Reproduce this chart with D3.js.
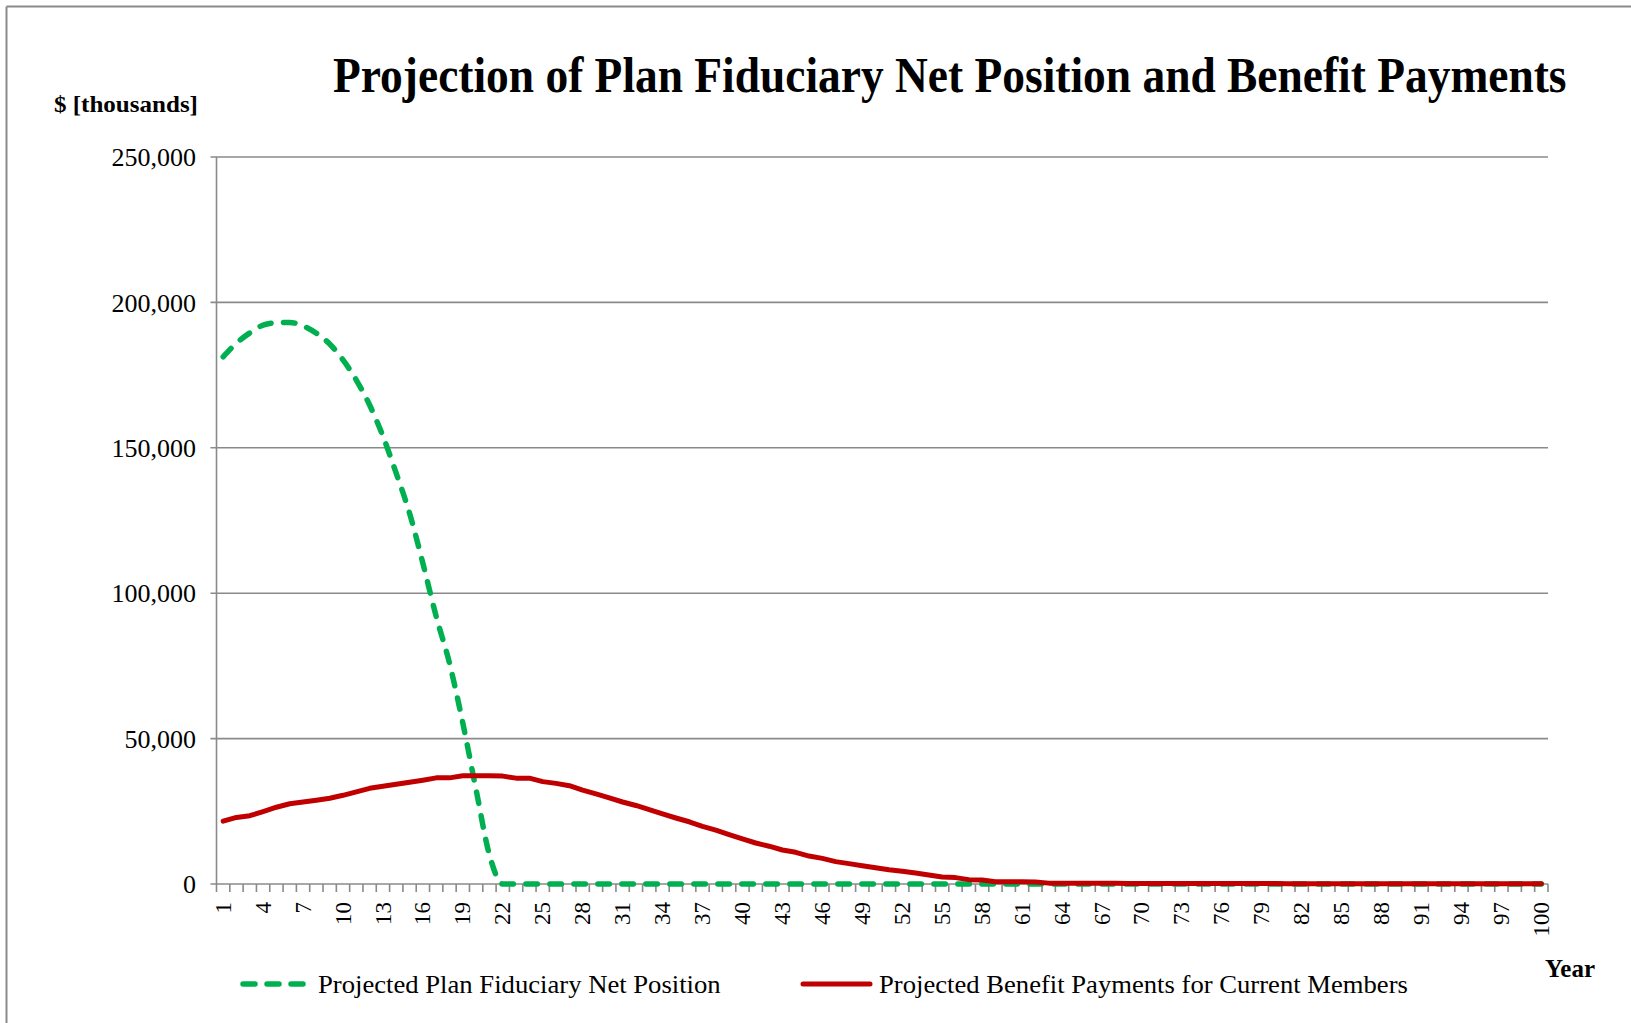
<!DOCTYPE html>
<html>
<head>
<meta charset="utf-8">
<script src="https://cdn.jsdelivr.net/npm/d3@7"></script>
<style>
  html, body { margin: 0; padding: 0; background: #fff; }
  svg { display: block; }
  text { font-family: "Liberation Serif", "Times New Roman", serif; fill: #000; }
</style>
</head>
<body>
<svg id="chart" width="1631" height="1023"></svg>
<script>
// ---- Data ($ thousands) ----
const years = [1,2,3,4,5,6,7,8,9,10,11,12,13,14,15,16,17,18,19,20,
  21,22,23,24,25,26,27,28,29,30,31,32,33,34,35,36,37,38,39,40,
  41,42,43,44,45,46,47,48,49,50,51,52,53,54,55,56,57,58,59,60,
  61,62,63,64,65,66,67,68,69,70,71,72,73,74,75,76,77,78,79,80,
  81,82,83,84,85,86,87,88,89,90,91,92,93,94,95,96,97,98,99,100];

const netPosition = [181300,186000,189500,192200,193000,193100,191900,189400,185700,180200,
  173300,164700,154000,141200,127500,110300,92000,75900,55300,32300,
  10000,0,0,0,0,0,0,0,0,0,0,0,0,0,0,0,0,0,0,0,
  0,0,0,0,0,0,0,0,0,0,0,0,0,0,0,0,0,0,0,0,
  0,0,0,0,0,0,0,0,0,0,0,0,0,0,0,0,0,0,0,0,
  0,0,0,0,0,0,0,0,0,0,0,0,0,0,0,0,0,0,0,0];

const benefitPayments = [21600,22900,23500,24900,26400,27600,28200,28800,29500,30500,
  31700,32900,33600,34300,35000,35700,36500,36500,37200,37200,
  37200,37100,36400,36400,35200,34600,33800,32300,31000,29600,
  28200,27000,25600,24100,22700,21400,19800,18500,17000,15500,
  14100,13000,11700,10900,9600,8800,7700,7000,6300,5600,
  4900,4400,3800,3100,2400,2200,1500,1400,800,800,
  800,700,300,300,300,300,300,300,200,200,
  200,200,200,200,200,200,200,200,200,200,
  100,100,100,100,100,100,100,100,100,100,
  100,100,100,100,100,100,100,100,100,100];

const yTicks = [0, 50000, 100000, 150000, 200000, 250000];
const xTickLabels = [1,4,7,10,13,16,19,22,25,28,31,34,37,40,43,46,49,52,55,58,61,64,67,70,73,76,79,82,85,88,91,94,97,100];

const titleText = "Projection of Plan Fiduciary Net Position and Benefit Payments";
const yAxisTitle = "$ [thousands]";
const xAxisTitle = "Year";
const seriesNames = ["Projected Plan Fiduciary Net Position", "Projected Benefit Payments for Current Members"];

// ---- Layout ----
const svg = d3.select("#chart");
const plotLeft = 216.5, plotRight = 1548, plotTop = 157, plotBottom = 884;
const gridColor = "#8a8a8a";
const green = "#00B050", red = "#C00000";

// outer chart border (top and left edges visible)
svg.append("line").attr("x1", 6.5).attr("x2", 1631).attr("y1", 6.5).attr("y2", 6.5)
  .attr("stroke", "#8a8a8a").attr("stroke-width", 2);
svg.append("line").attr("x1", 6.5).attr("x2", 6.5).attr("y1", 6.5).attr("y2", 1023)
  .attr("stroke", "#8a8a8a").attr("stroke-width", 2);

const x = d3.scaleBand().domain(years).range([plotLeft, plotRight]).padding(0);
const xc = d => x(d) + x.bandwidth() / 2;
const y = d3.scaleLinear().domain([0, 250000]).range([plotBottom, plotTop]);

// gridlines + y ticks
const yg = svg.append("g");
yg.selectAll("line.grid").data(yTicks).join("line")
  .attr("x1", plotLeft - 6).attr("x2", plotRight)
  .attr("y1", d => y(d)).attr("y2", d => y(d))
  .attr("stroke", gridColor).attr("stroke-width", 1.6);
yg.selectAll("text").data(yTicks).join("text")
  .attr("x", 196).attr("y", d => y(d)).attr("dy", "0.35em")
  .attr("text-anchor", "end").style("font-size", "26px")
  .text(d => d3.format(",")(d));

// y axis line
svg.append("line").attr("x1", plotLeft).attr("x2", plotLeft).attr("y1", plotTop).attr("y2", plotBottom)
  .attr("stroke", gridColor).attr("stroke-width", 1.6);

// x ticks at category boundaries
const bounds = years.map(d => x(d)).concat([plotRight]);
svg.append("g").selectAll("line").data(bounds).join("line")
  .attr("x1", d => d).attr("x2", d => d).attr("y1", plotBottom).attr("y2", plotBottom + 8)
  .attr("stroke", gridColor).attr("stroke-width", 1.6);

// x tick labels (rotated)
svg.append("g").selectAll("text").data(xTickLabels).join("text")
  .attr("transform", d => `translate(${xc(d)},${plotBottom + 18}) rotate(-90)`)
  .attr("text-anchor", "end").attr("dy", "0.33em")
  .style("font-size", "23px")
  .text(d => d);

// series
const lineGreen = d3.line().x((d, i) => xc(years[i])).y(d => y(d)).curve(d3.curveMonotoneX);
const lineRed = d3.line().x((d, i) => xc(years[i])).y(d => y(d)).curve(d3.curveLinear);

svg.append("path").datum(netPosition).attr("d", lineGreen)
  .attr("fill", "none").attr("stroke", green).attr("stroke-width", 5.5)
  .attr("stroke-dasharray", "11.5,12.5").attr("stroke-linecap", "round").attr("stroke-linejoin", "round");
svg.append("path").datum(benefitPayments).attr("d", lineRed)
  .attr("fill", "none").attr("stroke", red).attr("stroke-width", 5)
  .attr("stroke-linecap", "round").attr("stroke-linejoin", "round");

// helper: horizontally condensed text fitted to a target width
function fittedText(str, tx, ty, size, weight, targetW) {
  const g = svg.append("g");
  const t = g.append("text").attr("x", 0).attr("y", 0)
    .style("font-size", size + "px").style("font-weight", weight).text(str);
  const w = t.node().getComputedTextLength();
  const sx = targetW / w;
  g.attr("transform", `translate(${tx},${ty}) scale(${sx},1)`);
  return g;
}

// titles
fittedText(titleText, 333, 92, 50, "bold", 1234);
fittedText(yAxisTitle, 54, 112, 24, "bold", 144);
svg.append("text").attr("x", 1595).attr("y", 977).attr("text-anchor", "end")
  .style("font-size", "25px").style("font-weight", "bold").text(xAxisTitle);

// legend
const lg = svg.append("g");
lg.append("line").attr("x1", 243).attr("x2", 305).attr("y1", 984).attr("y2", 984)
  .attr("stroke", green).attr("stroke-width", 5.5).attr("stroke-dasharray", "12,12").attr("stroke-linecap", "round");
fittedText(seriesNames[0], 318, 993, 25, "normal", 403);
lg.append("line").attr("x1", 803).attr("x2", 870).attr("y1", 984).attr("y2", 984)
  .attr("stroke", red).attr("stroke-width", 5).attr("stroke-linecap", "round");
fittedText(seriesNames[1], 879, 993, 25, "normal", 529);
</script>
</body>
</html>
